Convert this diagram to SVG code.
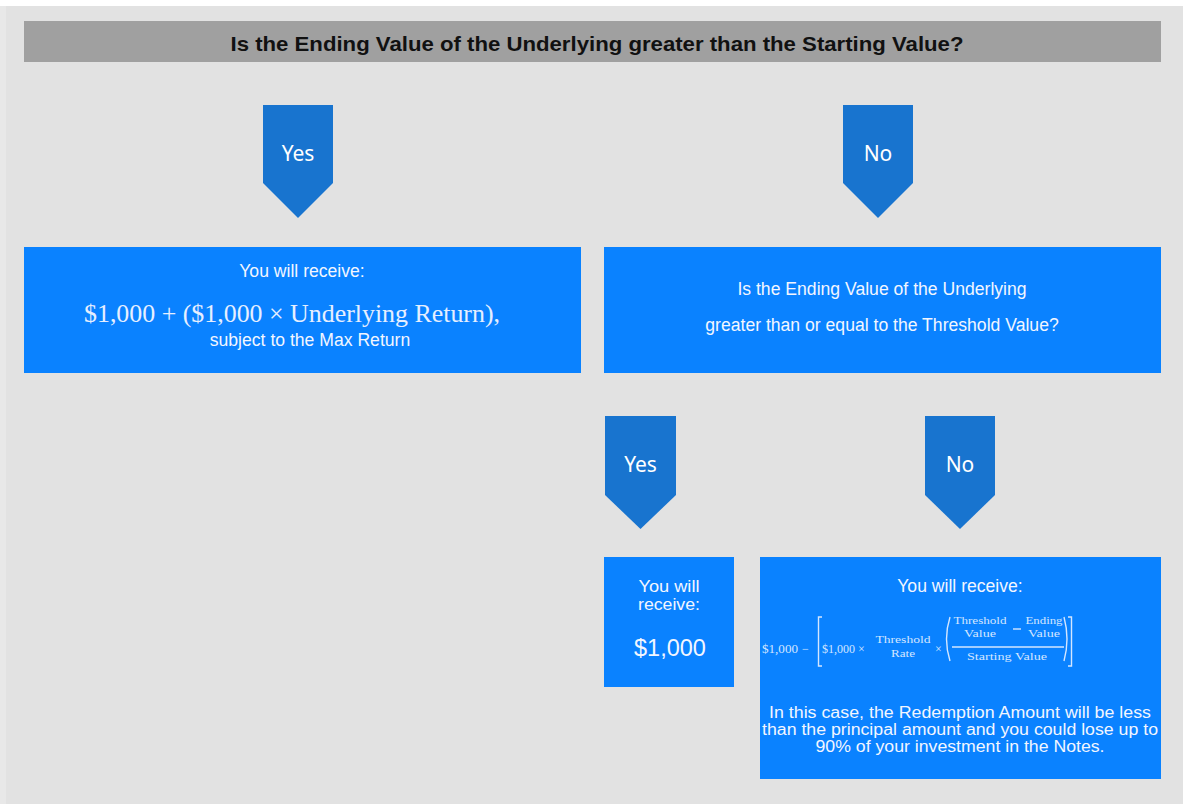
<svg xmlns="http://www.w3.org/2000/svg" width="1183" height="804" viewBox="0 0 1183 804">
<style>
.box{fill:#0a82ff}
.arrow{fill:#1874cf}
.t{font-family:"Liberation Sans",Arial,sans-serif;font-size:17.6px;fill:#f2f6ff;text-anchor:middle}
.tt{font-family:"Liberation Sans",Arial,sans-serif;font-size:16px;fill:#f2f6ff;text-anchor:middle}
.yn{font-family:"Noto Sans","Open Sans",sans-serif;font-size:21px;fill:#ffffff;text-anchor:middle}
.f{font-family:"Liberation Serif","Times New Roman",serif;fill:#d4e6ff;font-size:12px}
.fs{font-size:11px}
.fl{stroke:#d4e6ff;fill:none;stroke-width:1.4}
</style>
<rect x="0" y="0" width="1183" height="804" fill="#ffffff"/>
<rect x="0" y="6" width="1183" height="798" fill="#e2e2e2"/>
<rect x="0" y="6" width="6" height="798" fill="#e8e8e8"/>
<g id="header">
<rect x="24" y="21" width="1137" height="41" fill="#a0a0a0"/>
<text x="597" y="51" font-family="'Liberation Sans',Arial,sans-serif" font-weight="bold" font-size="21" fill="#111111" text-anchor="middle" textLength="733" lengthAdjust="spacingAndGlyphs">Is the Ending Value of the Underlying greater than the Starting Value?</text>
</g>
<g id="connectors">
<g id="arrow-yes-1">
<polygon class="arrow" points="263,105 333,105 333,183 298,218 263,183"/>
<text class="yn" x="298" y="161">Yes</text>
</g>
<g id="arrow-no-1">
<polygon class="arrow" points="843,105 913,105 913,183 878,218 843,183"/>
<text class="yn" x="878" y="161">No</text>
</g>
<g id="arrow-yes-2">
<polygon class="arrow" points="605,416 676,416 676,495 640.5,529 605,495"/>
<text class="yn" x="640.5" y="472">Yes</text>
</g>
<g id="arrow-no-2">
<polygon class="arrow" points="925,416 995,416 995,495 960,529 925,495"/>
<text class="yn" x="960" y="472">No</text>
</g>
</g>
<g id="node-left">
<rect class="box" x="24" y="247" width="557" height="126"/>
<text class="t" x="302" y="277">You will receive:</text>
<text x="292" y="322" font-family="'Liberation Serif','Times New Roman',serif" font-size="25" fill="#e6efff" text-anchor="middle" textLength="416" lengthAdjust="spacingAndGlyphs">$1,000 + ($1,000 × Underlying Return),</text>
<text class="t" x="310" y="346">subject to the Max Return</text>
</g>
<g id="node-right-question">
<rect class="box" x="604" y="247" width="557" height="126"/>
<text class="t" x="882" y="295">Is the Ending Value of the Underlying</text>
<text class="t" x="882" y="331">greater than or equal to the Threshold Value?</text>
</g>
<g id="node-yes-result">
<rect class="box" x="604" y="557" width="130" height="130"/>
<text class="tt" x="669" y="592" textLength="61" lengthAdjust="spacingAndGlyphs">You will</text>
<text class="tt" x="669" y="610" textLength="62" lengthAdjust="spacingAndGlyphs">receive:</text>
<text class="t" x="670" y="656" style="font-size:23.5px">$1,000</text>
</g>
<g id="node-no-result">
<rect class="box" x="760" y="557" width="401" height="222"/>
<text class="t" x="960" y="592">You will receive:</text>
<text class="f" x="762" y="653" textLength="36" lengthAdjust="spacingAndGlyphs">$1,000</text>
<text class="f" x="802" y="653">−</text>
<path class="fl" d="M822,617 L818.5,617 L818.5,666 L822,666" stroke-width="2"/>
<text class="f" x="822" y="653" textLength="33" lengthAdjust="spacingAndGlyphs">$1,000</text>
<text class="f" x="858" y="653">×</text>
<text class="f fs" x="903" y="643" text-anchor="middle" textLength="55" lengthAdjust="spacingAndGlyphs">Threshold</text>
<text class="f fs" x="903" y="657" text-anchor="middle" textLength="24" lengthAdjust="spacingAndGlyphs">Rate</text>
<text class="f" x="935" y="653">×</text>
<path class="fl" d="M950,617 Q943,639 950,661"/>
<text class="f fs" x="980" y="624" text-anchor="middle" textLength="53" lengthAdjust="spacingAndGlyphs">Threshold</text>
<text class="f fs" x="980" y="637" text-anchor="middle" textLength="32" lengthAdjust="spacingAndGlyphs">Value</text>
<line class="fl" x1="1013" y1="629" x2="1021" y2="629"/>
<text class="f fs" x="1044" y="624" text-anchor="middle" textLength="37" lengthAdjust="spacingAndGlyphs">Ending</text>
<text class="f fs" x="1044" y="637" text-anchor="middle" textLength="32" lengthAdjust="spacingAndGlyphs">Value</text>
<line class="fl" x1="952" y1="647" x2="1064" y2="647" stroke-width="1"/>
<text class="f fs" x="1007" y="660" text-anchor="middle" textLength="80" lengthAdjust="spacingAndGlyphs">Starting Value</text>
<path class="fl" d="M1064,617 Q1070,639 1064,661"/>
<path class="fl" d="M1068,617 L1071.5,617 L1071.5,666 L1068,666" stroke-width="2"/>
<text class="tt" x="960" y="718" textLength="382" lengthAdjust="spacingAndGlyphs">In this case, the Redemption Amount will be less</text>
<text class="tt" x="960" y="735" textLength="396" lengthAdjust="spacingAndGlyphs">than the principal amount and you could lose up to</text>
<text class="tt" x="960" y="752" textLength="289" lengthAdjust="spacingAndGlyphs">90% of your investment in the Notes.</text>
</g>
</svg>
